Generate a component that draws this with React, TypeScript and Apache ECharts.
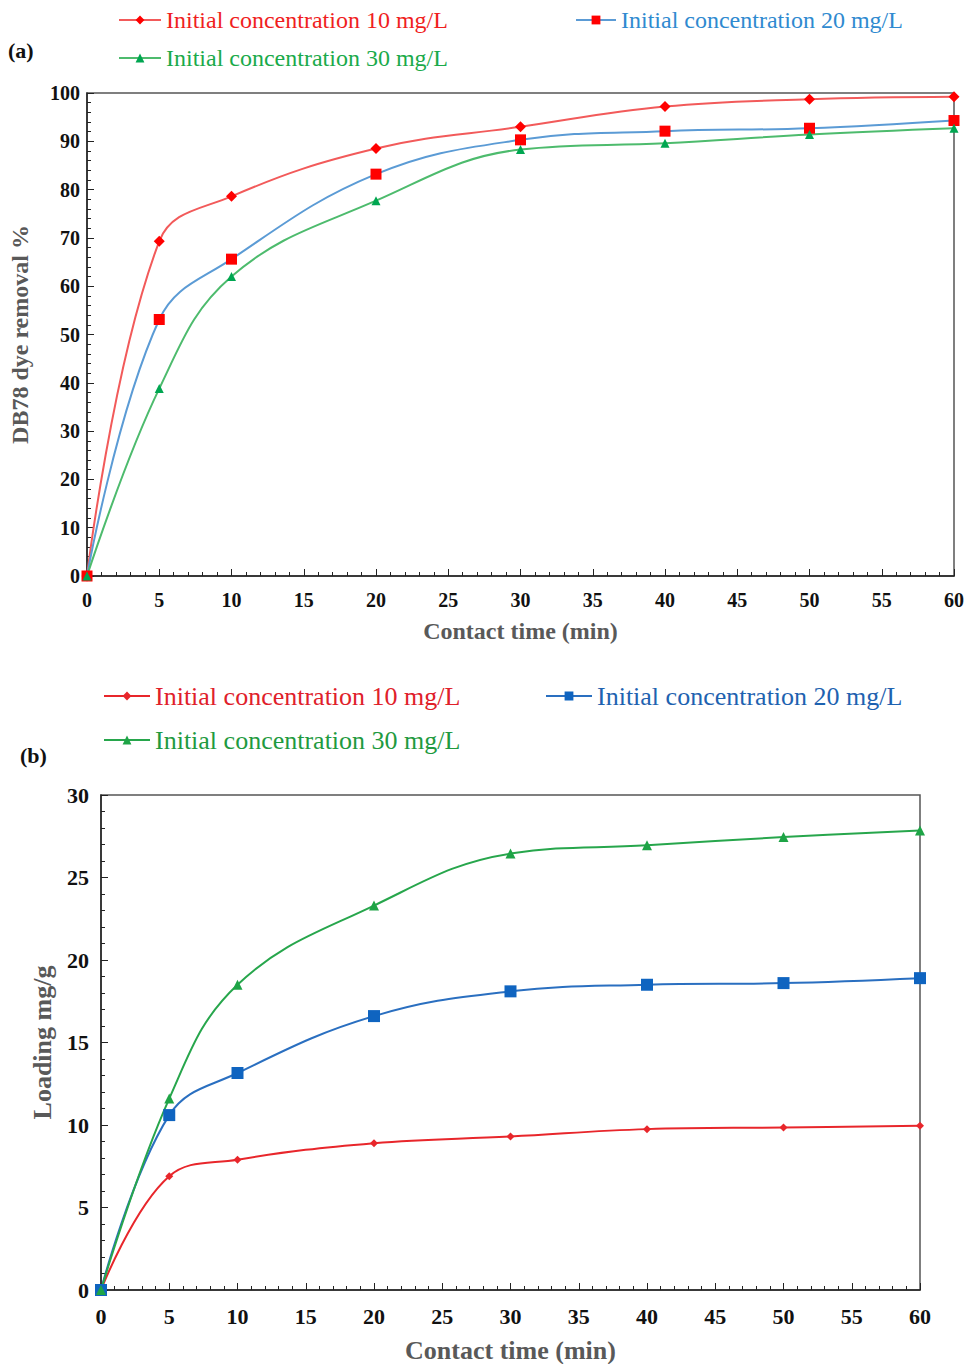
import React, { useEffect, useRef } from "react";
import * as echarts from "echarts";

const times = [0, 5, 10, 20, 30, 40, 50, 60];
const removal10 = [0, 69.3, 78.6, 88.5, 93.0, 97.2, 98.7, 99.2];
const removal20 = [0, 53.1, 65.6, 83.2, 90.3, 92.1, 92.7, 94.3];
const removal30 = [0, 38.8, 62.0, 77.7, 88.3, 89.6, 91.4, 92.7];
const loading10 = [0, 6.9, 7.9, 8.9, 9.3, 9.75, 9.85, 9.95];
const loading20 = [0, 10.6, 13.15, 16.6, 18.1, 18.5, 18.6, 18.9];
const loading30 = [0, 11.6, 18.5, 23.3, 26.45, 26.95, 27.45, 27.85];
const legendLabels = ["Initial concentration 10 mg/L", "Initial concentration 20 mg/L", "Initial concentration 30 mg/L"];

const pair = (ys: number[]) => times.map((t, i) => [t, ys[i]]);
const FONT = "'Liberation Serif', 'Times New Roman', serif";

export default function App() {
  const ref = useRef<HTMLDivElement>(null);
  useEffect(() => {
    document.body.style.margin = "0";
    const chart = echarts.init(ref.current!, null, { renderer: "svg" });
    const xAxisBase = (gridIndex: number, fs: number, margin: number, nameGap: number, nameFs: number) => ({
      type: "value", gridIndex, min: 0, max: 60, interval: 5,
      name: "Contact time (min)", nameLocation: "middle", nameGap,
      nameTextStyle: { fontFamily: FONT, fontWeight: "bold", fontSize: nameFs, color: "#595959" },
      axisLine: { show: true, lineStyle: { color: "#222", width: 1.5 } },
      axisTick: { show: true, inside: true, length: 7, lineStyle: { color: "#222" } },
      minorTick: { show: true, splitNumber: 5, length: 4, lineStyle: { color: "#222" } },
      splitLine: { show: false },
      axisLabel: { fontFamily: FONT, fontWeight: "bold", fontSize: fs, color: "#111", margin },
    });
    const yAxisBase = (gridIndex: number, max: number, interval: number, minor: number, name: string, fs: number, margin: number, nameGap: number, nameFs: number) => ({
      type: "value", gridIndex, min: 0, max, interval,
      name, nameLocation: "middle", nameGap,
      nameTextStyle: { fontFamily: FONT, fontWeight: "bold", fontSize: nameFs, color: "#595959" },
      axisLine: { show: true, lineStyle: { color: "#222", width: 1.5 } },
      axisTick: { show: true, inside: true, length: 7, lineStyle: { color: "#222" } },
      minorTick: { show: true, splitNumber: minor, length: 4, lineStyle: { color: "#222" } },
      splitLine: { show: false },
      axisLabel: { fontFamily: FONT, fontWeight: "bold", fontSize: fs, color: "#111", margin },
    });
    const series = (id: string, xi: number, data: number[], lineColor: string, symbol: string, size: number, markColor: string) => ({
      type: "line", name: id, xAxisIndex: xi, yAxisIndex: xi, data: pair(data),
      smooth: 0.4, symbol, symbolSize: size, showSymbol: true,
      lineStyle: { color: lineColor, width: 2 },
      itemStyle: { color: markColor, borderWidth: 0 },
      z: 3,
    });
    const legend = (id: string, label: string, color: string, left: number, top: number, fs: number, iw: number) => ({
      left, top, padding: 0, selectedMode: false, itemWidth: iw, itemHeight: 11,
      data: [{ name: id, textStyle: { color } }],
      formatter: () => label,
      textStyle: { fontFamily: FONT, fontSize: fs, color },
    });
    chart.setOption({
      animation: false,
      backgroundColor: "#fff",
      grid: [
        { left: 87, top: 93, width: 869, height: 483, show: true, borderColor: "#555", borderWidth: 1.5 },
        { left: 101, top: 795, width: 819, height: 496, show: true, borderColor: "#555", borderWidth: 1.5 },
      ],
      xAxis: [xAxisBase(0, 20, 14, 43, 24), xAxisBase(1, 22, 15, 47, 26)],
      yAxis: [
        yAxisBase(0, 100, 10, 5, "DB78 dye removal %", 20, 7, 55, 24),
        yAxisBase(1, 30, 5, 5, "Loading mg/g", 22, 12, 46, 26),
      ],
      legend: [
        legend("a10", legendLabels[0], "#f01e1e", 118, 8, 24, 42),
        legend("a20", legendLabels[1], "#2f8ad0", 575, 8, 24, 40),
        legend("a30", legendLabels[2], "#1aaa4a", 118, 46, 24, 42),
        legend("b10", legendLabels[0], "#e0202a", 103, 683, 26, 46),
        legend("b20", legendLabels[1], "#1e62b0", 545, 683, 26, 46),
        legend("b30", legendLabels[2], "#1f9a40", 103, 727, 26, 46),
      ],
      series: [
        series("a10", 0, removal10, "#f25a5a", "diamond", 11, "#ff0000"),
        series("a20", 0, removal20, "#5b9bd5", "rect", 11, "#ff0000"),
        series("a30", 0, removal30, "#4dbb6d", "triangle", 9, "#00a651"),
        series("b10", 1, loading10, "#e8262b", "diamond", 8, "#e8262b"),
        series("b20", 1, loading20, "#2a6fc0", "rect", 12, "#0f64c0"),
        series("b30", 1, loading30, "#27a64c", "triangle", 10, "#1ea446"),
      ],
      graphic: [
        { type: "text", left: 8, top: 39, style: { text: "(a)", font: `bold 22px ${FONT}`, fill: "#111" } },
        { type: "text", left: 20, top: 744, style: { text: "(b)", font: `bold 22px ${FONT}`, fill: "#111" } },
      ],
    });
    return () => chart.dispose();
  }, []);
  return <div ref={ref} style={{ width: 967, height: 1364 }} />;
}
